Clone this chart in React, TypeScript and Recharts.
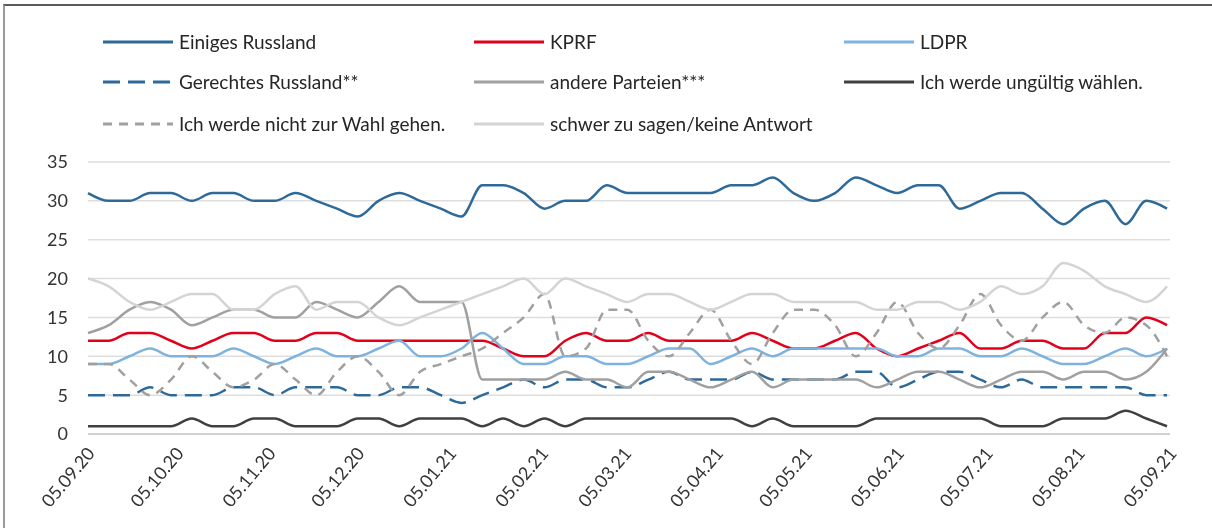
import { CartesianGrid, Line, LineChart, XAxis, YAxis } from "recharts";

// month ticks on the date axis
const tickLabels = [
  "05.09.20", "05.10.20", "05.11.20", "05.12.20", "05.01.21", "05.02.21", "05.03.21",
  "05.04.21", "05.05.21", "05.06.21", "05.07.21", "05.08.21", "05.09.21",
];

// weekly survey results, starting 05.09.20
const einigesRussland = [
  31, 30, 30, 31, 31, 30, 31, 31, 30, 30, 31, 30, 29, 28, 30, 31, 30, 29, 28, 32,
  32, 31, 29, 30, 30, 32, 31, 31, 31, 31, 31, 32, 32, 33, 31, 30, 31, 33, 32, 31,
  32, 32, 29, 30, 31, 31, 29, 27, 29, 30, 27, 30, 29,
];
const kprf = [
  12, 12, 13, 13, 12, 11, 12, 13, 13, 12, 12, 13, 13, 12, 12, 12, 12, 12, 12, 12,
  11, 10, 10, 12, 13, 12, 12, 13, 12, 12, 12, 12, 13, 12, 11, 11, 12, 13, 11, 10,
  11, 12, 13, 11, 11, 12, 12, 11, 11, 13, 13, 15, 14,
];
const ldpr = [
  9, 9, 10, 11, 10, 10, 10, 11, 10, 9, 10, 11, 10, 10, 11, 12, 10, 10, 11, 13,
  11, 9, 9, 10, 10, 9, 9, 10, 11, 11, 9, 10, 11, 10, 11, 11, 11, 11, 11, 10,
  10, 11, 11, 10, 10, 11, 10, 9, 9, 10, 11, 10, 11,
];
const gerechtesRussland = [
  5, 5, 5, 6, 5, 5, 5, 6, 6, 5, 6, 6, 6, 5, 5, 6, 6, 5, 4, 5,
  6, 7, 6, 7, 7, 6, 6, 7, 8, 7, 7, 7, 8, 7, 7, 7, 7, 8, 8, 6,
  7, 8, 8, 7, 6, 7, 6, 6, 6, 6, 6, 5, 5,
];
const anderePartei = [
  13, 14, 16, 17, 16, 14, 15, 16, 16, 15, 15, 17, 16, 15, 17, 19, 17, 17, 17, 7,
  7, 7, 7, 8, 7, 7, 6, 8, 8, 7, 6, 7, 8, 6, 7, 7, 7, 7, 6, 7,
  8, 8, 7, 6, 7, 8, 8, 7, 8, 8, 7, 8, 11,
];
const ungueltig = [
  1, 1, 1, 1, 1, 2, 1, 1, 2, 2, 1, 1, 1, 2, 2, 1, 2, 2, 2, 1,
  2, 1, 2, 1, 2, 2, 2, 2, 2, 2, 2, 2, 1, 2, 1, 1, 1, 1, 2, 2,
  2, 2, 2, 2, 1, 1, 1, 2, 2, 2, 3, 2, 1,
];
const nichtWahl = [
  9, 9, 7, 5, 7, 10, 8, 6, 7, 9, 7, 5, 8, 10, 8, 5, 8, 9, 10, 11,
  13, 15, 18, 10, 11, 16, 16, 12, 10, 13, 16, 12, 9, 13, 16, 16, 14, 10, 13, 17,
  13, 11, 14, 18, 14, 12, 15, 17, 14, 13, 15, 14, 10,
];
const schwer = [
  20, 19, 17, 16, 17, 18, 18, 16, 16, 18, 19, 16, 17, 17, 15, 14, 15, 16, 17, 18,
  19, 20, 18, 20, 19, 18, 17, 18, 18, 17, 16, 17, 18, 18, 17, 17, 17, 17, 16, 16,
  17, 17, 16, 17, 19, 18, 19, 22, 21, 19, 18, 17, 19,
];

const series = [
  { key: "er", name: "Einiges Russland", values: einigesRussland, color: "#2E6A99", dash: undefined },
  { key: "kprf", name: "KPRF", values: kprf, color: "#E3001B", dash: undefined },
  { key: "ldpr", name: "LDPR", values: ldpr, color: "#7FB3DF", dash: undefined },
  { key: "gr", name: "Gerechtes Russland**", values: gerechtesRussland, color: "#2E6A99", dash: "17 8" },
  { key: "andere", name: "andere Parteien***", values: anderePartei, color: "#A0A0A0", dash: undefined },
  { key: "ungueltig", name: "Ich werde ungültig wählen.", values: ungueltig, color: "#404040", dash: undefined },
  { key: "nicht", name: "Ich werde nicht zur Wahl gehen.", values: nichtWahl, color: "#A0A0A0", dash: "9 7" },
  { key: "schwer", name: "schwer zu sagen/keine Antwort", values: schwer, color: "#D4D4D4", dash: undefined },
];

const START = Date.UTC(2020, 8, 5);
const toDay = (label: string) => {
  const [d, m, y] = label.split(".").map(Number);
  return Math.round((Date.UTC(2000 + y, m - 1, d) - START) / 86400000);
};
const tickDays = tickLabels.map(toDay);

const data = einigesRussland.map((_, i) => {
  const row: Record<string, number> = { day: i * 7 };
  series.forEach((s) => (row[s.key] = s.values[i]));
  return row;
});

const FONT = "Lato, 'Open Sans', sans-serif";

function DateTick({ x, y, payload }: any) {
  const label = tickLabels[tickDays.indexOf(payload.value)];
  const ax = x + 3;
  const ay = y + 6;
  return (
    <text
      x={ax}
      y={ay}
      transform={`rotate(-50 ${ax} ${ay})`}
      textAnchor="end"
      dy="0.35em"
      fontSize={18}
      fill="#333"
      fontFamily={FONT}
    >
      {label}
    </text>
  );
}

const legendCols = [95, 466, 836];
const legendRows = [34, 74, 116];

function ChartLegend() {
  return (
    <>
      {series.map((s, i) => (
        <div
          key={s.key}
          style={{
            position: "absolute",
            left: legendCols[i % 3],
            top: legendRows[Math.floor(i / 3)] - 11,
            display: "flex",
            alignItems: "center",
            fontFamily: FONT,
            fontSize: 19,
            color: "#262626",
            whiteSpace: "nowrap",
            lineHeight: "22px",
          }}
        >
          <svg width={70} height={6} style={{ marginRight: 6 }}>
            <line x1={0} y1={3} x2={70} y2={3} stroke={s.color} strokeWidth={3} strokeDasharray={s.dash} />
          </svg>
          {s.name}
        </div>
      ))}
    </>
  );
}

export default function App() {
  return (
    <div style={{ position: "relative", width: 1196, height: 512 }}>
      {/* outer frame of the figure */}
      <div
        style={{
          position: "fixed",
          left: 3,
          top: 4,
          width: 1207,
          height: 522,
          borderTop: "2px solid #5a5a5a",
          borderLeft: "2px solid #9a9a9a",
          pointerEvents: "none",
        }}
      />
      <ChartLegend />
      <LineChart
        width={1196}
        height={512}
        data={data}
        margin={{ top: 154, right: 34, bottom: 6, left: 10 }}
        style={{ position: "absolute", left: 0, top: 0 }}
      >
        <CartesianGrid vertical={false} stroke="#DDDDDD" strokeWidth={1.5} />
        <XAxis
          dataKey="day"
          type="number"
          domain={[0, 365]}
          ticks={tickDays}
          tick={<DateTick />}
          tickLine={false}
          tickMargin={4}
          height={80}
          axisLine={{ stroke: "#D0D0D0", strokeWidth: 2 }}
          interval={0}
        />
        <YAxis
          domain={[0, 35]}
          ticks={[0, 5, 10, 15, 20, 25, 30, 35]}
          width={70}
          axisLine={false}
          tickLine={false}
          tickMargin={14}
          tick={{ fontSize: 18, fill: "#333", fontFamily: FONT }}
        />
        {series.map((s) => (
          <Line
            key={s.key}
            dataKey={s.key}
            name={s.name}
            type="monotone"
            stroke={s.color}
            strokeWidth={2.5}
            strokeDasharray={s.dash}
            dot={false}
            activeDot={false}
            isAnimationActive={false}
          />
        ))}
      </LineChart>
    </div>
  );
}
